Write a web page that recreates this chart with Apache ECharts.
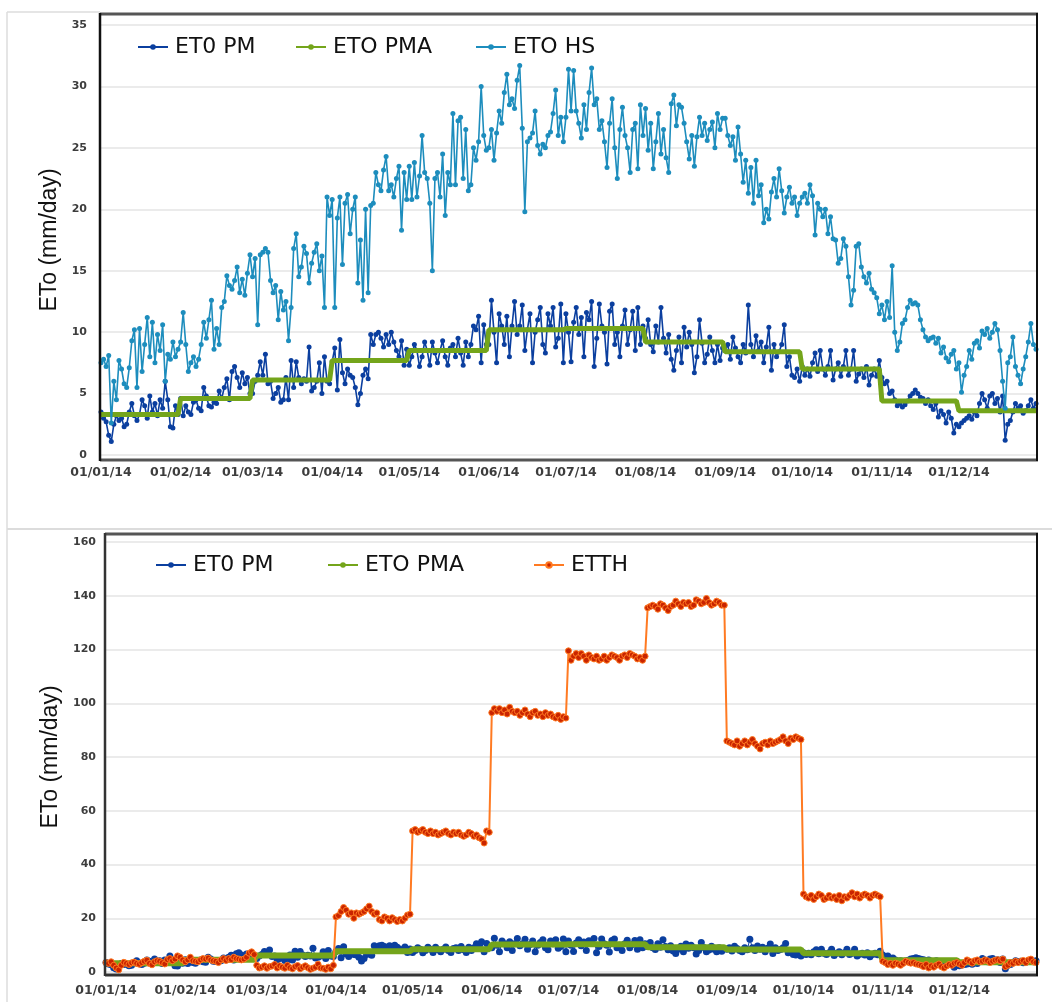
<!DOCTYPE html>
<html>
<head>
<meta charset="utf-8">
<script src="https://cdn.jsdelivr.net/npm/echarts@6/dist/echarts.min.js"></script>
<style>
  html, body { margin: 0; padding: 0; background: #ffffff; }
  #top { position: absolute; left: 0; top: 0; width: 1052px; height: 500px; }
  #bottom { position: absolute; left: 0; top: 500px; width: 1052px; height: 502px; }
</style>
</head>
<body>
<div id="top"></div>
<div id="bottom"></div>
<script>
// ---------------- DATA ----------------
const monthStartLabels = ['01/01/14','01/02/14','01/03/14','01/04/14','01/05/14','01/06/14',
                          '01/07/14','01/08/14','01/09/14','01/10/14','01/11/14','01/12/14'];
const daysInMonth = [31,28,31,30,31,30,31,31,30,31,30,31];

// Monthly ETO PMA values (mm/day), constant within each month
const etoPMAMonthly = [3.3, 4.6, 6.1, 7.7, 8.5, 10.2, 10.3, 9.2, 8.4, 7.0, 4.4, 3.6];

// Daily ET0 PM (mm/day)
const etoPM = [
  // Jan
  3.5,3.0,2.7,1.6,1.1,2.5,3.2,2.8,3.0,2.3,2.5,3.5,4.2,3.2,2.8,3.3,4.5,4.0,3.0,4.8,3.5,4.2,3.2,4.5,3.8,6.0,4.5,2.3,2.2,4.0,3.3,
  // Feb
  4.6,3.2,4.0,3.5,3.3,4.3,4.5,3.8,3.6,5.5,4.8,4.0,3.9,4.3,4.2,5.2,4.6,5.5,6.2,4.5,6.8,7.2,6.3,5.5,6.7,5.8,6.3,5.0,
  // Mar
  5.0,6.0,6.5,7.6,6.5,8.2,5.8,6.0,4.6,5.0,5.5,4.3,4.5,6.3,4.5,7.7,5.5,7.6,6.3,5.8,6.2,6.0,8.8,5.2,5.5,6.0,7.5,5.0,8.0,6.0,5.8,
  // Apr
  7.6,8.7,5.3,9.4,6.7,5.8,7.0,6.5,6.3,5.5,4.1,5.0,6.5,7.0,6.2,9.8,9.0,9.8,10.0,9.5,8.8,9.8,9.0,10.0,9.2,8.5,8.0,9.3,7.3,8.6,
  // May
  7.3,8.0,9.0,8.5,7.2,8.0,9.2,8.5,7.3,9.2,8.3,7.5,8.5,9.3,8.0,7.3,8.7,9.0,8.0,9.5,8.3,7.3,9.2,8.0,9.0,10.5,10.2,11.3,7.5,10.6,9.0,
  // Jun
  9.0,12.6,10.0,7.5,11.5,10.5,9.0,11.3,8.0,10.5,12.5,9.8,10.5,12.2,8.5,10.2,11.5,7.5,10.0,11.0,12.0,9.0,8.3,11.5,10.5,12.0,8.8,9.5,12.3,7.5,
  // Jul
  11.5,10.0,7.6,10.8,12.0,9.8,11.2,8.0,11.6,11.0,12.5,7.2,9.5,12.3,10.5,10.0,7.4,11.7,12.3,9.0,10.0,8.0,10.5,11.8,9.0,10.2,11.7,8.5,12.0,9.0,10.5,
  // Aug
  9.5,11.0,9.0,8.4,10.5,9.2,12.0,9.5,8.3,9.8,7.8,6.9,8.5,9.6,7.5,10.4,8.8,10.0,9.0,6.7,8.0,11.0,9.1,7.5,8.2,9.6,8.5,7.5,9.0,7.7,8.7,
  // Sep
  8.5,9.0,7.8,9.6,8.7,8.0,7.5,9.0,8.3,12.2,9.0,8.0,9.7,8.5,9.2,7.5,8.8,10.4,6.9,9.0,8.0,8.4,9.0,10.6,7.2,8.0,6.5,6.3,7.0,6.0,
  // Oct
  7.2,6.5,7.0,6.4,7.5,8.3,6.8,8.5,7.0,6.5,7.2,8.5,6.1,7.0,7.5,6.4,7.2,8.5,6.5,7.0,8.5,6.0,6.6,7.0,6.3,7.2,5.7,6.5,7.0,6.4,7.7,
  // Nov
  6.3,5.8,6.0,5.0,5.2,4.5,4.0,4.2,3.9,4.1,4.4,4.8,5.0,5.3,5.0,4.7,4.6,4.2,4.5,4.0,3.7,4.2,3.1,3.6,3.3,2.6,3.5,3.0,1.8,2.5,
  // Dec
  2.3,2.6,2.8,3.0,3.2,2.9,3.5,3.2,4.2,5.0,4.5,3.8,4.8,5.0,4.2,4.6,3.5,4.8,1.2,2.5,2.8,3.5,4.2,3.8,4.0,3.4,3.6,4.0,4.5,3.8,4.2
];

// Daily ETO HS (mm/day)
const etoHS = [
  // Jan
  7.5,7.8,7.2,8.1,2.6,6.0,4.5,7.7,7.0,5.8,5.5,7.1,9.3,10.2,5.5,10.3,6.8,9.0,11.2,8.0,10.8,7.5,9.8,8.5,10.6,6.0,8.2,7.8,9.2,8.0,8.6,
  // Feb
  9.2,11.6,9.0,6.8,7.5,8.0,7.2,7.8,9.0,10.8,9.5,11.0,12.6,8.6,10.3,9.0,12.0,12.5,14.6,13.8,13.5,14.2,15.3,13.2,14.3,13.0,14.8,16.3,
  // Mar
  14.5,16.0,10.6,16.3,16.5,16.8,16.5,14.2,13.2,13.8,11.0,13.3,11.8,12.5,9.3,12.0,16.8,18.0,14.5,15.3,17.0,16.4,14.0,15.6,16.5,17.2,15.0,16.2,12.0,21.0,19.5,
  // Apr
  20.8,12.0,19.3,21.0,15.5,20.5,21.2,18.0,20.0,21.0,14.0,17.5,12.6,20.0,13.2,20.3,20.5,23.0,22.0,21.5,23.2,24.3,21.5,22.0,21.0,22.5,23.5,18.3,23.0,20.8,
  // May
  23.5,20.8,23.8,21.0,22.7,26.0,23.0,22.5,20.5,15.0,22.5,23.0,21.0,24.5,19.5,23.0,22.0,27.8,22.0,27.2,27.5,22.5,26.5,21.5,22.0,25.0,24.0,25.5,30.0,26.0,24.8,
  // Jun
  25.0,26.5,24.0,26.2,28.0,27.0,29.5,31.0,28.5,29.0,28.2,30.5,31.7,26.6,19.8,25.5,25.8,26.2,28.0,25.2,24.5,25.3,25.0,26.0,26.3,27.8,29.7,26.0,27.5,25.5,
  // Jul
  27.5,31.4,28.0,31.3,28.0,27.0,25.8,28.5,26.5,29.5,31.5,28.5,29.0,26.5,27.2,25.5,23.4,27.0,29.0,25.0,22.5,26.5,28.3,26.0,25.0,23.0,26.5,27.0,23.3,28.5,26.0,
  // Aug
  28.2,24.8,27.0,23.3,25.5,27.8,24.5,26.5,24.2,23.0,28.6,29.3,26.8,28.5,28.3,27.0,25.5,24.1,26.0,23.5,25.9,27.5,26.0,27.0,25.6,26.5,27.1,25.0,27.8,26.5,27.4,
  // Sep
  27.4,26.0,25.2,25.9,24.0,26.7,24.5,22.2,24.0,21.3,23.4,20.5,24.0,21.1,22.0,18.9,20.0,19.2,21.4,22.5,21.0,23.3,21.5,19.7,21.0,21.8,20.5,21.0,19.5,20.5,
  // Oct
  21.0,21.3,20.5,22.0,21.1,17.9,20.5,20.0,19.4,20.0,18.0,19.4,17.6,17.5,15.6,16.0,17.6,17.0,14.5,12.2,13.4,17.0,17.2,15.3,14.5,14.0,14.8,13.5,13.2,12.8,11.5,
  // Nov
  12.2,11.0,12.5,11.2,15.4,10.0,8.5,9.2,10.7,11.0,12.0,12.6,12.3,12.4,12.2,11.0,10.2,9.6,9.3,9.5,9.6,9.1,9.5,8.3,8.8,7.9,7.6,8.2,8.5,7.0,
  // Dec
  7.5,5.1,6.5,7.2,8.5,7.8,9.1,9.3,8.7,10.1,9.8,10.3,9.5,10.0,10.7,10.2,8.5,6.0,3.8,7.5,8.0,9.6,7.2,6.5,5.8,7.0,8.0,9.2,10.7,9.0,8.6
];

// Daily ETTH (mm/day)
const etTH = [
  // Jan
  3.5,3.2,3.8,2.5,1.5,0.8,2.5,3.6,3.2,2.8,3.4,3.7,3.2,2.9,3.5,4.0,4.4,3.2,2.7,3.8,4.2,4.0,3.5,3.0,4.6,5.0,4.2,4.8,6.0,5.5,4.5,
  // Feb
  3.8,4.5,5.5,4.2,4.0,3.8,4.5,5.0,4.8,5.2,4.5,4.2,4.0,3.5,4.5,5.0,4.3,5.0,4.6,5.5,5.0,4.8,4.5,4.8,5.5,7.0,7.5,6.5,
  // Mar
  2.5,1.5,1.8,2.3,1.4,2.0,2.2,2.8,1.5,2.3,1.8,1.4,2.5,1.6,1.2,2.0,2.4,1.2,1.8,2.3,1.6,1.0,1.4,1.8,2.9,1.5,1.4,1.0,1.8,1.2,2.5,
  // Apr
  20.5,21.0,22.5,24.0,23.0,21.5,22.0,20.0,22.0,21.5,22.0,22.5,23.5,24.5,22.5,21.5,22.0,19.5,19.0,20.5,20.0,19.0,20.2,19.5,18.8,19.5,19.0,20.0,21.2,21.5,
  // May
  52.5,53.0,52.0,52.5,53.0,52.0,51.5,52.5,51.5,52.0,51.0,51.5,52.0,52.5,51.5,51.0,52.0,51.5,52.0,51.0,50.5,51.0,52.0,51.5,50.5,51.0,50.0,49.5,48.0,52.5,52.0,
  // Jun
  96.5,98.0,97.0,98.0,96.5,97.5,96.0,98.5,97.0,96.5,97.0,95.5,96.5,97.5,96.0,95.0,96.5,97.0,95.5,96.0,95.0,96.5,95.5,96.0,95.0,94.5,95.5,94.0,95.0,94.5,
  // Jul
  119.5,116.0,117.5,118.5,117.0,118.5,117.5,116.0,118.0,117.0,116.5,117.5,116.0,116.5,117.5,116.0,117.0,118.0,117.5,117.0,116.0,117.5,118.0,117.0,118.5,118.0,117.5,116.5,117.0,116.0,117.5,
  // Aug
  135.5,136.0,136.5,136.0,135.0,137.0,136.5,135.5,134.5,136.0,136.5,138.0,137.0,136.0,137.5,137.0,137.5,136.0,136.5,138.5,138.0,137.0,137.5,139.0,137.5,136.5,137.0,138.0,137.5,136.5,136.5,
  // Sep
  86.0,85.5,85.0,84.5,86.0,84.0,85.0,86.0,84.5,85.5,86.5,85.0,84.0,83.0,85.0,85.5,84.5,86.0,85.0,85.5,86.0,86.5,87.5,86.0,85.0,87.0,86.5,87.5,87.0,86.5,
  // Oct
  29.0,28.0,27.5,28.5,27.0,28.0,29.0,28.5,27.0,27.5,28.5,27.5,28.0,27.0,28.5,26.5,28.0,27.5,28.5,29.5,28.0,29.0,27.5,28.5,29.0,28.5,27.5,28.5,29.0,28.5,28.0,
  // Nov
  4.0,3.5,2.8,3.2,2.5,3.3,3.0,2.5,3.2,4.0,3.6,3.3,3.5,3.0,2.8,2.5,2.0,2.8,1.5,2.3,1.8,2.5,3.0,2.0,1.5,2.2,2.8,2.5,3.2,3.5,
  // Dec
  3.0,2.5,3.5,4.5,4.0,3.3,4.2,4.5,3.8,4.0,4.5,4.2,3.5,4.0,4.4,4.6,4.2,4.8,2.0,2.5,3.5,3.2,4.0,3.5,4.0,4.3,3.5,4.5,4.8,3.8,3.5
];

// Category labels (one per day of 2014), dd/mm/yy
const dates = [];
daysInMonth.forEach(function (n, m) {
  for (let d = 1; d <= n; d++) {
    dates.push(String(d).padStart(2, '0') + '/' + String(m + 1).padStart(2, '0') + '/14');
  }
});
// Monthly PMA expanded to daily steps
const etoPMA = [];
daysInMonth.forEach(function (n, m) { for (let d = 0; d < n; d++) etoPMA.push(etoPMAMonthly[m]); });

// ---------------- STYLE ----------------
const C_PM = '#0b3f9f';
const C_PMA = '#74a51b';
const C_HS = '#1d8dbd';
const C_TH_LINE = '#ff7a22';
const C_TH_DOT = '#c92400';

function xAxisCfg(margin) {
  return {
    type: 'category', data: dates, boundaryGap: false,
    axisLine: { show: false }, axisTick: { show: false },
    splitLine: { show: false },
    axisLabel: {
      interval: function (i, v) { return monthStartLabels.indexOf(v) >= 0; },
      fontFamily: 'DejaVu Sans', fontWeight: 'bold', fontSize: 12.5, color: '#3d3d3d',
      margin: margin, hideOverlap: false
    }
  };
}
function yAxisCfg(max, interval, margin, nameGap) {
  return {
    type: 'value', min: 0, max: max, interval: interval,
    axisLine: { show: false }, axisTick: { show: false },
    splitLine: { lineStyle: { color: '#e4e4e4', width: 1.5 } },
    axisLabel: { fontFamily: 'DejaVu Sans', fontWeight: 'bold', fontSize: 11, color: '#3d3d3d', margin: margin },
    name: 'ETo (mm/day)', nameLocation: 'middle', nameGap: nameGap,
    nameTextStyle: { fontFamily: 'Liberation Sans', fontSize: 23, color: '#111' }
  };
}
function legendItem(name, left, top) {
  return {
    data: [name], left: left, top: top, itemWidth: 30, itemHeight: 7, itemGap: 0,
    selectedMode: false,
    lineStyle: { width: 2 },
    textStyle: { fontFamily: 'DejaVu Sans', fontSize: 22, color: '#111', padding: [0, 0, 0, 2] }
  };
}
function ln(x1, y1, x2, y2, color, w) {
  return { type: 'line', silent: true, shape: { x1: x1, y1: y1, x2: x2, y2: y2 }, style: { stroke: color, lineWidth: w }, z: 100 };
}

// ---------------- TOP CHART ----------------
const topChart = echarts.init(document.getElementById('top'), null, { renderer: 'canvas' });
topChart.setOption({
  animation: false,
  backgroundColor: '#ffffff',
  grid: { left: 101, top: 25, width: 935, height: 430, containLabel: false },
  xAxis: xAxisCfg(11),
  yAxis: yAxisCfg(35, 5, 14, 40),
  legend: [
    legendItem('ET0 PM', 132, 31),
    legendItem('ETO PMA', 290, 31),
    legendItem('ETO HS', 470, 31)
  ],
  series: [
    { name: 'ET0 PM', type: 'line', data: etoPM, symbol: 'circle', symbolSize: 5, showAllSymbol: true,
      itemStyle: { color: C_PM }, lineStyle: { color: C_PM, width: 1.6 }, z: 2 },
    { name: 'ETO PMA', type: 'line', data: etoPMA, symbol: 'circle', symbolSize: 3, showSymbol: false,
      itemStyle: { color: C_PMA }, lineStyle: { color: C_PMA, width: 5 }, z: 3 },
    { name: 'ETO HS', type: 'line', data: etoHS, symbol: 'circle', symbolSize: 5, showAllSymbol: true,
      itemStyle: { color: C_HS }, lineStyle: { color: C_HS, width: 1.6 }, z: 4 }
  ],
  graphic: [
    ln(7, 12, 7, 500, '#dcdcdc', 1.5),
    ln(7, 12, 100, 12, '#dcdcdc', 1.5),
    ln(100, 14, 1038, 14, '#555555', 3),
    ln(100, 460, 1038, 460, '#555555', 3),
    ln(100, 13, 100, 461, '#111111', 2.5),
    ln(1037, 13, 1037, 461, '#111111', 2)
  ]
});

// ---------------- BOTTOM CHART ----------------
const botChart = echarts.init(document.getElementById('bottom'), null, { renderer: 'canvas' });
botChart.setOption({
  animation: false,
  backgroundColor: '#ffffff',
  grid: { left: 106, top: 42, width: 930, height: 430, containLabel: false },
  xAxis: xAxisCfg(12),
  yAxis: yAxisCfg(160, 20, 10, 44),
  legend: [
    legendItem('ET0 PM', 150, 49),
    legendItem('ETO PMA', 322, 49),
    legendItem('ETTH', 528, 49)
  ],
  series: [
    { name: 'ET0 PM', type: 'line', data: etoPM, symbol: 'circle', symbolSize: 7, showAllSymbol: true,
      itemStyle: { color: C_PM }, lineStyle: { color: C_PM, width: 1 }, z: 2 },
    { name: 'ETO PMA', type: 'line', data: etoPMA, symbol: 'circle', symbolSize: 3, showSymbol: false,
      itemStyle: { color: C_PMA }, lineStyle: { color: C_PMA, width: 6 }, z: 3 },
    { name: 'ETTH', type: 'line', data: etTH, symbol: 'circle', symbolSize: 6, showAllSymbol: true,
      itemStyle: { color: C_TH_DOT, borderColor: C_TH_LINE, borderWidth: 1 },
      lineStyle: { color: C_TH_LINE, width: 2 }, z: 4 }
  ],
  graphic: [
    ln(7, 0, 7, 502, '#dcdcdc', 1.5),
    ln(7, 29, 1052, 29, '#dcdcdc', 2),
    ln(105, 34, 1038, 34, '#555555', 3),
    ln(105, 475, 1038, 475, '#333333', 3),
    ln(105, 33, 105, 476, '#333333', 2.5),
    ln(1037, 33, 1037, 476, '#111111', 2)
  ]
});
</script>
</body>
</html>
